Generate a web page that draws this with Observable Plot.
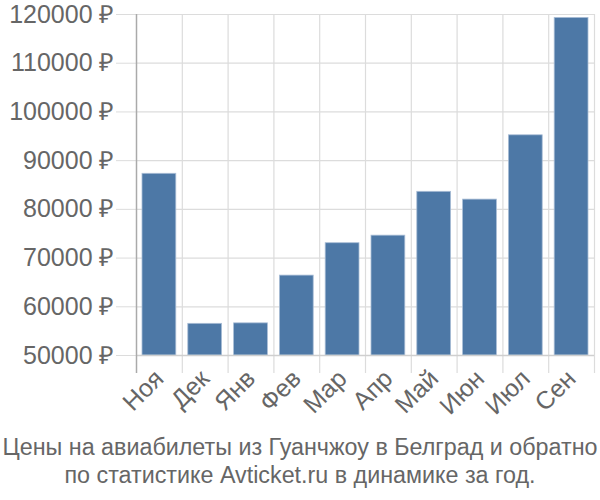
<!DOCTYPE html>
<html>
<head>
<meta charset="utf-8">
<script src="https://cdn.jsdelivr.net/npm/d3@7"></script>
<script src="https://cdn.jsdelivr.net/npm/@observablehq/plot@0.6"></script>
<style>
  body { margin: 0; background: #fff; font-family: "Liberation Sans", Arial, sans-serif; }
  #chart { width: 600px; }
  .caption { text-align: center; color: #666; font-size: 23.3px; line-height: 28px; margin-top: 13px; white-space: nowrap; }
</style>
</head>
<body>
<div id="chart"></div>
<script>
const months = ["Ноя", "Дек", "Янв", "Фев", "Мар", "Апр", "Май", "Июн", "Июл", "Сен"];
const prices = [87300, 56500, 56600, 66400, 73050, 74600, 83600, 82000, 95200, 119300];
const yTicks = [50000, 60000, 70000, 80000, 90000, 100000, 110000, 120000];
const captionLines = [
  "Цены на авиабилеты из Гуанчжоу в Белград и обратно",
  "по статистике Avticket.ru в динамике за год."
];

const data = months.map((m, i) => ({month: m, price: prices[i]}));
const W = 600, ML = 136, MR = 6;
const half = (W - ML - MR) / months.length / 2;
const yMin = yTicks[0], yMax = yTicks[yTicks.length - 1];

const chart = Plot.plot({
  width: W,
  height: 420,
  marginLeft: ML,
  marginRight: MR,
  marginTop: 14,
  marginBottom: 65,
  style: {fontFamily: "Liberation Sans, Arial, sans-serif", fontSize: "25px", color: "#666", background: "#fff"},
  x: {domain: months, padding: 0, round: false, label: null},
  y: {domain: [yMin, yMax], label: null},
  marks: [
    Plot.ruleY(yTicks, {stroke: "#dcdcdc", strokeWidth: 1.2}),
    Plot.ruleX(months.slice(1), {x: d => d, dx: -half, y1: yMax, y2: yMin, insetBottom: -18, stroke: "#dcdcdc", strokeWidth: 1.2}),
    Plot.ruleX([months[months.length - 1]], {x: d => d, dx: half, y1: yMax, y2: yMin, insetBottom: -18, stroke: "#dcdcdc", strokeWidth: 1.2}),
    Plot.axisY({ticks: yTicks, tickSize: 20, tickPadding: 2, stroke: "#dcdcdc", fill: "#666", fontSize: 25, tickFormat: d => d + " ₽", label: null}),
    Plot.barY(data, {x: "month", y1: yMin, y2: "price", fill: "#4d78a6", stroke: "#a9bdd6", strokeWidth: 0.8, insetLeft: 6, insetRight: 6}),
    Plot.ruleY([yMin], {stroke: "#cfcfcf", strokeWidth: 1.5}),
    Plot.ruleX([months[0]], {x: d => d, dx: -half, y1: yMax, y2: yMin, insetBottom: -18, stroke: "#aaa", strokeWidth: 1.5}),
    Plot.axisX({tickSize: 0, tickPadding: 19, tickRotate: -45, fill: "#666", fontSize: 25, label: null})
  ]
});
document.getElementById("chart").appendChild(chart);
const cap = document.createElement("div");
cap.className = "caption";
cap.innerHTML = captionLines.join("<br>");
document.getElementById("chart").appendChild(cap);
</script>
</body>
</html>
